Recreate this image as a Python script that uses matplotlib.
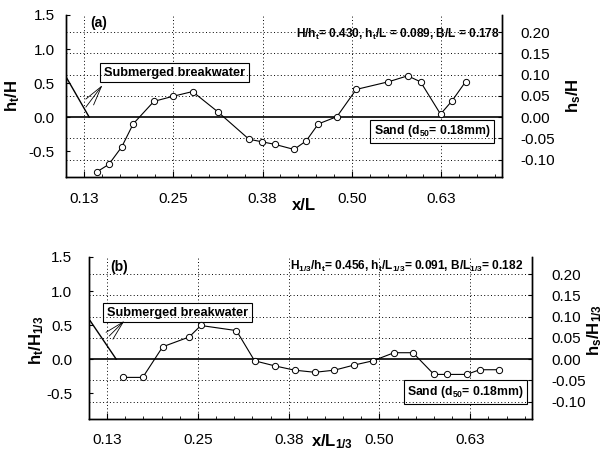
import matplotlib
matplotlib.use('Agg')
import matplotlib.pyplot as plt

plt.rcParams['font.family'] = ['Liberation Sans', 'DejaVu Sans']
plt.rcParams['mathtext.fontset'] = 'custom'
plt.rcParams['mathtext.rm'] = 'Liberation Sans'
plt.rcParams['mathtext.bf'] = 'Liberation Sans:bold'
plt.rcParams['mathtext.it'] = 'Liberation Sans:italic'

# (a) regular waves: measured bed profile h_s/H along x/L
x_a = [0.143, 0.160, 0.178, 0.194, 0.223, 0.250, 0.277, 0.312, 0.356, 0.374,
       0.392, 0.419, 0.436, 0.453, 0.479, 0.506, 0.551, 0.578, 0.596, 0.624,
       0.640, 0.659]
hs_a = [-0.129, -0.111, -0.070, -0.016, 0.037, 0.049, 0.060, 0.013, -0.052, -0.058,
        -0.064, -0.076, -0.056, -0.016, 0.001, 0.065, 0.083, 0.097, 0.083, 0.007,
        0.038, 0.083]

# (b) irregular waves: h_s/H_1/3 along x/L_1/3
x_b = [0.147, 0.174, 0.2015, 0.238, 0.254, 0.303, 0.328, 0.356, 0.383, 0.411,
       0.438, 0.465, 0.491, 0.520, 0.546, 0.575, 0.593, 0.620, 0.638, 0.664]
hs_b = [-0.043, -0.043, 0.029, 0.052, 0.079, 0.067, -0.004, -0.016, -0.026, -0.031,
        -0.026, -0.014, -0.004, 0.015, 0.015, -0.036, -0.036, -0.036, -0.025, -0.025]

# breakwater lee slope, in left axis units (h_t/H)
bw_a_x = [0.101, 0.1324]
bw_a_y = [0.574, 0.0]
bw_b_x = [0.1016, 0.1374]
bw_b_y = [0.563, 0.0]

x_ticks = [0.125, 0.25, 0.375, 0.5, 0.625]
x_tick_labels = ['0.13', '0.25', '0.38', '0.50', '0.63']
left_ticks = [-0.5, 0.0, 0.5, 1.0, 1.5]
right_ticks = [-0.10, -0.05, 0.0, 0.05, 0.10, 0.15, 0.20]

W, H = 606, 451
fig = plt.figure(figsize=(W / 100, H / 100), dpi=100)


def px(x, y):
    # pixel position -> figure fraction
    return x / W, 1 - y / H


def draw_panel(rect, x, hs, bw_x, bw_y, tag, params, params_xy, params_size,
               box_sub, box_sand, arrow_tail, arrow_head, pads):
    ax = fig.add_axes(rect)
    ax2 = ax.twinx()
    ax.set_xlim(0.101, 0.710)
    ax.set_ylim(-0.88, 1.5)
    ax2.set_ylim(-0.88 / 6.25, 1.5 / 6.25)

    for a in (ax, ax2):
        a.spines['top'].set_visible(False)
        for s in a.spines.values():
            s.set_linewidth(1.0)

    ax.set_xticks(x_ticks)
    ax.set_xticklabels(x_tick_labels)
    ax.set_xticks([0.1 + 0.025 * i for i in range(25)], minor=True)
    ax.set_yticks(left_ticks)
    ax.set_yticklabels(['%.1f' % v for v in left_ticks])
    ax2.set_yticks(right_ticks)
    ax2.set_yticklabels(['%.2f' % v for v in right_ticks])

    ax.tick_params(axis='x', which='major', direction='in', length=4, labelsize=11, pad=pads[2])
    ax.tick_params(axis='x', which='minor', direction='in', length=2.5)
    ax.tick_params(axis='y', direction='in', length=3, labelsize=11, pad=pads[0])
    ax2.tick_params(axis='y', direction='in', length=3, labelsize=11, pad=pads[1])

    # dotted grid
    grid_style = dict(color='k', lw=0.7, ls=(0, (1, 2.5)))
    for xv in x_ticks:
        ax.axvline(xv, **grid_style)
    for yv in right_ticks:
        if yv != 0:
            ax2.axhline(yv, **grid_style)
    ax.axhline(0, color='k', lw=1.2)

    # breakwater and bed profile
    ax.plot(bw_x, bw_y, 'k-', lw=1.0)
    ax2.plot(x, hs, '-o', color='k', lw=0.8, ms=4.5, mfc='white', mec='k', mew=0.7)

    ax.text(tag[1], tag[2], tag[0], transform=ax.transAxes, fontsize=10,
            fontweight='bold', ha='left', va='center')
    ax.text(params_xy[0], params_xy[1], params, transform=ax.transAxes,
            fontsize=params_size, fontweight='bold', ha='right', va='center')

    box = dict(boxstyle='square,pad=0.3', fc='white', ec='k', lw=0.8)
    ax.text(box_sub[0], box_sub[1], 'Submerged breakwater', transform=ax.transAxes,
            fontsize=9.2, fontweight='bold', ha='center', va='center', bbox=box)
    ax.text(box_sand[0], box_sand[1], r'Sand (d$_\mathbf{50}$= 0.18mm)',
            transform=ax.transAxes, fontsize=8.8, fontweight='bold',
            ha='center', va='center', bbox=box, zorder=5)

    ax.annotate('', xy=arrow_head, xytext=arrow_tail,
                arrowprops=dict(arrowstyle='->,head_length=1.4,head_width=0.35',
                                color='k', lw=0.6, shrinkA=0, shrinkB=0))
    return ax, ax2


draw_panel([66 / W, 1 - 177 / H, 436 / W, 162 / H], x_a, hs_a, bw_a_x, bw_a_y,
           ('(a)', 0.055, 0.95),
           r'H/h$_\mathbf{t}$= 0.430, h$_\mathbf{t}$/L = 0.089, B/L = 0.178', (0.995, 0.877),
           8.6, (0.249, 0.645), (0.839, 0.281),
           (0.1278, 0.147), (0.151, 0.47), (8, 13, 11))

draw_panel([89 / W, 1 - 419 / H, 443 / W, 162 / H], x_b, hs_b, bw_b_x, bw_b_y,
           ('(b)', 0.047, 0.94),
           r'H$_\mathbf{1/3}$/h$_\mathbf{t}$= 0.456, h$_\mathbf{t}$/L$_\mathbf{1/3}$= 0.091, '
           r'B/L$_\mathbf{1/3}$= 0.182', (0.98, 0.944),
           8.6, (0.20, 0.657), (0.85, 0.167),
           (0.1277, 0.338), (0.1488, 0.563), (12, 14, 10))

# axis titles placed by pixel position
lab = dict(fontsize=12, fontweight='bold', ha='center', va='center')
fig.text(*px(13, 96), r'h$_\mathbf{t}$/H', rotation=90, **lab)
fig.text(*px(574, 96), r'h$_\mathbf{s}$/H', rotation=90, **lab)
fig.text(*px(304, 206), 'x/L', **lab)
fig.text(*px(37, 340), r'h$_\mathbf{t}$/H$_\mathbf{1/3}$', rotation=90, **lab)
fig.text(*px(595, 330), r'h$_\mathbf{s}$/H$_\mathbf{1/3}$', rotation=90, **lab)
fig.text(*px(332, 442), r'x/L$_\mathbf{1/3}$', **lab)

fig.savefig('out.png', dpi=100)
